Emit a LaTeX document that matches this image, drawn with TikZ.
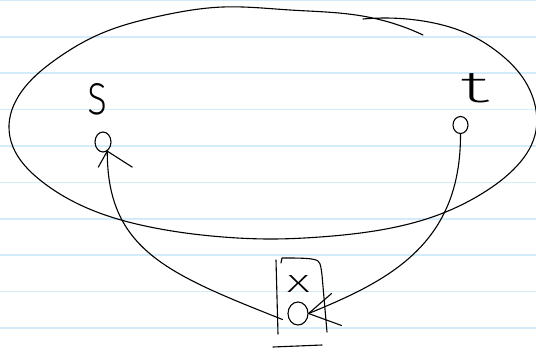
\documentclass[tikz,border=0pt]{standalone}
\usepackage{fontspec}
\usetikzlibrary{shapes.geometric,hobby}
\IfFontExistsTF{Fira Sans ExtraLight}{\newfontfamily\hand{Fira Sans ExtraLight}}{%
  \IfFontExistsTF{FiraSans-ExtraLight.otf}{\newfontfamily\hand{FiraSans-ExtraLight.otf}}{%
  \IfFontExistsTF{Fira Sans Thin}{\newfontfamily\hand{Fira Sans Thin}}{%
      \newfontfamily\hand{Fira Sans}}}}
\definecolor{paperline}{RGB}{212,235,249}
\tikzset{
  ink/.style={line width=1.1pt, line cap=round, line join=round, black},
  conn/.style={ink},
  vtx/.style={ellipse, draw, line width=1.1pt, inner sep=0pt},
  lbl/.style={inner sep=0pt, font=\hand},
  rule/.style={paperline, line width=1.6pt}
}
\begin{document}
\begin{tikzpicture}[x=1pt,y=-1pt]
\useasboundingbox (0,0) rectangle (536,350);
\fill[white] (0,0) rectangle (536,350);
\foreach \k in {0,...,9} \draw[rule] (0,{0.5+36.37*\k}) -- (536,{0.5+36.37*\k});

% big hand-drawn ellipse
\draw[ink, use Hobby shortcut] (363,19) .. (423,21) .. (466,33) .. (499,53) .. (523,78)
 .. (535,105) .. (535,135) .. (513,170) .. (483,193) .. (438,215) .. (396,227)
 .. (320,237) .. (273,239) .. (223,237) .. (150,227) .. (87,208) .. (40,180)
 .. (13,147) .. (9,125) .. (25,87) .. (55,60) .. (100,34) .. (160,16) .. (223,7)
 .. (290,10) .. (356,15) .. (392,23) .. (423,35);

% vertices
\node[vtx, minimum width=16pt, minimum height=20pt] (s) at (103,142) {};
\node[vtx, minimum width=15pt, minimum height=17pt] (t) at (460.5,125) {};
\node[vtx, minimum width=20pt, minimum height=23pt] (xo) at (298,313.5) {};

% labels
\node[lbl] (sl) at (98,99) {\resizebox{20pt}{31pt}{s}};
\node[lbl] (tl) at (475,88) {\resizebox{29pt}{29pt}{t}};
\node[lbl] (xl) at (298.5,283.5) {\resizebox{23pt}{17pt}{x}};

% box around x
\draw[ink] (276,260) -- (278,334);
\draw[ink] (281,263) -- (282,258) .. controls (300,258) and (314,258) .. (318,261)
  .. controls (321,264) and (321,268) .. (322,275) -- (327,332);
\draw[ink] (273,347) -- (322,345);

% connectors
\draw[conn] ([shift={(-5,6)}]xo.west) .. controls (168,274) and (107,250) .. (s.-65);
\draw[conn] ([shift={(-9,16)}]s.-65) -- (s.-65) -- ++(25,16);

\draw[conn] (t.south) .. controls (461,245) and (388,281) .. (xo.east);
\draw[conn] ([shift={(23,-20)}]xo.east) -- (xo.east) -- ++(33,12);
\end{tikzpicture}
\end{document}
